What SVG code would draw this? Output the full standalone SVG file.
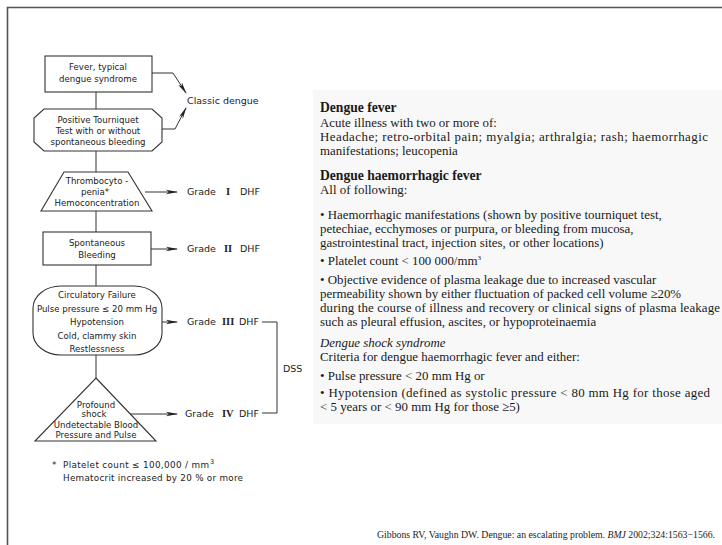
<svg xmlns="http://www.w3.org/2000/svg" width="722" height="545" viewBox="0 0 722 545">
<defs>
<marker id="ah" markerWidth="12" markerHeight="6" refX="11" refY="3" orient="auto" markerUnits="userSpaceOnUse">
<path d="M0,0.8 L12,3 L0,5.2 L3,3 Z" fill="#222"/>
</marker>
<style>
.sh{fill:#fff;stroke:#333;stroke-width:1.1}
.ln{fill:none;stroke:#333;stroke-width:1}
.ar{fill:none;stroke:#333;stroke-width:1;marker-end:url(#ah)}
.ft{font-family:"DejaVu Sans","Liberation Sans",sans-serif;font-size:8.6px;fill:#222;text-anchor:middle}
.gl{font-family:"DejaVu Sans","Liberation Sans",sans-serif;font-size:9.5px;fill:#222}
.fn{font-family:"DejaVu Sans","Liberation Sans",sans-serif;font-size:8.8px;fill:#222}
.rn{font-family:"Liberation Serif",serif;font-size:10.5px;fill:#222;font-weight:bold}
.bt{font-family:"Liberation Serif","Times New Roman",serif;font-size:12.9px;fill:#1a1a1a}
.hd{font-weight:bold;font-size:13.6px}
</style>
</defs>
<rect width="722" height="545" fill="#fff"/>
<rect x="313" y="90" width="409" height="334" fill="#f8f8f8"/>
<path d="M7.5,545 V7.5 H722" fill="none" stroke="#555" stroke-width="1.6"/>

<g id="connectors">
<path class="ln" d="M96,92 V109 M96,151 V172 M96,211 V232 M96,265 V286 M96,355 V378"/>
<path class="ar" d="M152,73 H173 L186,93"/>
<path class="ar" d="M162,129 H175 L186,108"/>
<path class="ar" d="M145,192 H177"/>
<path class="ar" d="M151,249 H177"/>
<path class="ar" d="M162,322 H177"/>
<path class="ar" d="M130,414 H177"/>
<path class="ln" d="M262,322 H277 V413 H262"/>
</g>

<g id="n1">
<rect class="sh" x="45" y="56" width="107" height="36"/>
<text class="ft" x="98" y="70">Fever, typical</text>
<text class="ft" x="98" y="82">dengue syndrome</text>
</g>
<g id="n2">
<path class="sh" d="M44,109 H152 L162,118 V142 L152,151 H44 L34,142 V118 Z"/>
<text class="ft" x="98" y="123">Positive Tourniquet</text>
<text class="ft" x="98" y="134">Test with or without</text>
<text class="ft" x="98" y="145">spontaneous bleeding</text>
</g>
<g id="classic">
<text class="gl" x="187" y="104">Classic dengue</text>
</g>
<g id="n3">
<path class="sh" d="M64,172 H128 L152,211 H41 Z"/>
<text class="ft" x="97" y="184">Thrombocyto -</text>
<text class="ft" x="95" y="195">penia*</text>
<text class="ft" x="97" y="206">Hemoconcentration</text>
</g>
<g id="g1">
<text class="gl" x="187" y="195">Grade <tspan class="rn" x="226">I</tspan><tspan x="240">DHF</tspan></text>
</g>
<g id="n4">
<rect class="sh" x="43" y="232" width="108" height="33"/>
<text class="ft" x="97" y="246">Spontaneous</text>
<text class="ft" x="97" y="258">Bleeding</text>
</g>
<g id="g2">
<text class="gl" x="187" y="252">Grade <tspan class="rn" x="224">II</tspan><tspan x="240">DHF</tspan></text>
</g>
<g id="n5">
<rect class="sh" x="33" y="286" width="129" height="69" rx="28" ry="22"/>
<text class="ft" x="97" y="298">Circulatory Failure</text>
<text class="ft" x="97" y="312">Pulse pressure ≤ 20 mm Hg</text>
<text class="ft" x="97" y="325">Hypotension</text>
<text class="ft" x="97" y="339">Cold, clammy skin</text>
<text class="ft" x="97" y="352">Restlessness</text>
</g>
<g id="g3">
<text class="gl" x="187" y="325">Grade <tspan class="rn" x="222">III</tspan><tspan x="239">DHF</tspan></text>
</g>
<g id="dss">
<text class="gl" x="283" y="372">DSS</text>
</g>
<g id="n6">
<path class="sh" d="M96,378 L156,441 H35 Z"/>
<text class="ft" x="96" y="408">Profound</text>
<text class="ft" x="94" y="417">shock</text>
<text class="ft" x="96" y="428">Undetectable Blood</text>
<text class="ft" x="96" y="438">Pressure and Pulse</text>
</g>
<g id="g4">
<text class="gl" x="185" y="417">Grade <tspan class="rn" x="222">IV</tspan><tspan x="239">DHF</tspan></text>
</g>
<g id="footnote">
<text class="fn" x="52" y="468">*</text>
<text class="fn" x="63" y="468" textLength="146" lengthAdjust="spacing">Platelet count ≤ 100,000 / mm</text>
<text class="fn" x="210" y="464" style="font-size:6.5px">3</text>
<text class="fn" x="63" y="481" textLength="180" lengthAdjust="spacing">Hematocrit increased by 20 % or more</text>
</g>

<g id="panel">
<text class="bt hd" x="320" y="112">Dengue fever</text>
<text class="bt" x="320" y="127">Acute illness with two or more of:</text>
<text class="bt" x="320" y="141" textLength="388" lengthAdjust="spacing">Headache; retro-orbital pain; myalgia; arthralgia; rash; haemorrhagic</text>
<text class="bt" x="320" y="155">manifestations; leucopenia</text>
<text class="bt hd" x="320" y="180">Dengue haemorrhagic fever</text>
<text class="bt" x="320" y="194">All of following:</text>
<text class="bt" x="320" y="219">•  Haemorrhagic manifestations (shown by positive tourniquet test,</text>
<text class="bt" x="320" y="233">petechiae, ecchymoses or purpura, or bleeding from mucosa,</text>
<text class="bt" x="320" y="247">gastrointestinal tract, injection sites, or other locations)</text>
<text class="bt" x="320" y="265">•  Platelet count  &lt; 100 000/mm<tspan dy="-5" style="font-size:7px">3</tspan></text>
<text class="bt" x="320" y="284">•  Objective evidence of plasma leakage due to increased vascular</text>
<text class="bt" x="320" y="298">permeability shown by either fluctuation of packed cell volume ≥20%</text>
<text class="bt" x="320" y="312" textLength="400" lengthAdjust="spacing">during the course of illness and recovery or clinical signs of plasma leakage</text>
<text class="bt" x="320" y="326">such as pleural effusion, ascites, or hypoproteinaemia</text>
<text class="bt" x="320" y="347" font-style="italic">Dengue shock syndrome</text>
<text class="bt" x="320" y="361">Criteria for dengue haemorrhagic fever and either:</text>
<text class="bt" x="320" y="380">•  Pulse pressure  &lt; 20 mm Hg or</text>
<text class="bt" x="320" y="397" textLength="390" lengthAdjust="spacing">•  Hypotension (defined as systolic pressure  &lt; 80 mm Hg for those aged</text>
<text class="bt" x="320" y="411">&lt; 5 years or  &lt; 90 mm Hg for those ≥5)</text>
</g>
<text x="377" y="538" textLength="338" lengthAdjust="spacingAndGlyphs" style="font-family:'Liberation Serif',serif;font-size:9.8px;fill:#222">Gibbons RV, Vaughn DW. Dengue: an escalating problem. <tspan font-style="italic">BMJ</tspan> 2002;324:1563−1566.</text>
</svg>
